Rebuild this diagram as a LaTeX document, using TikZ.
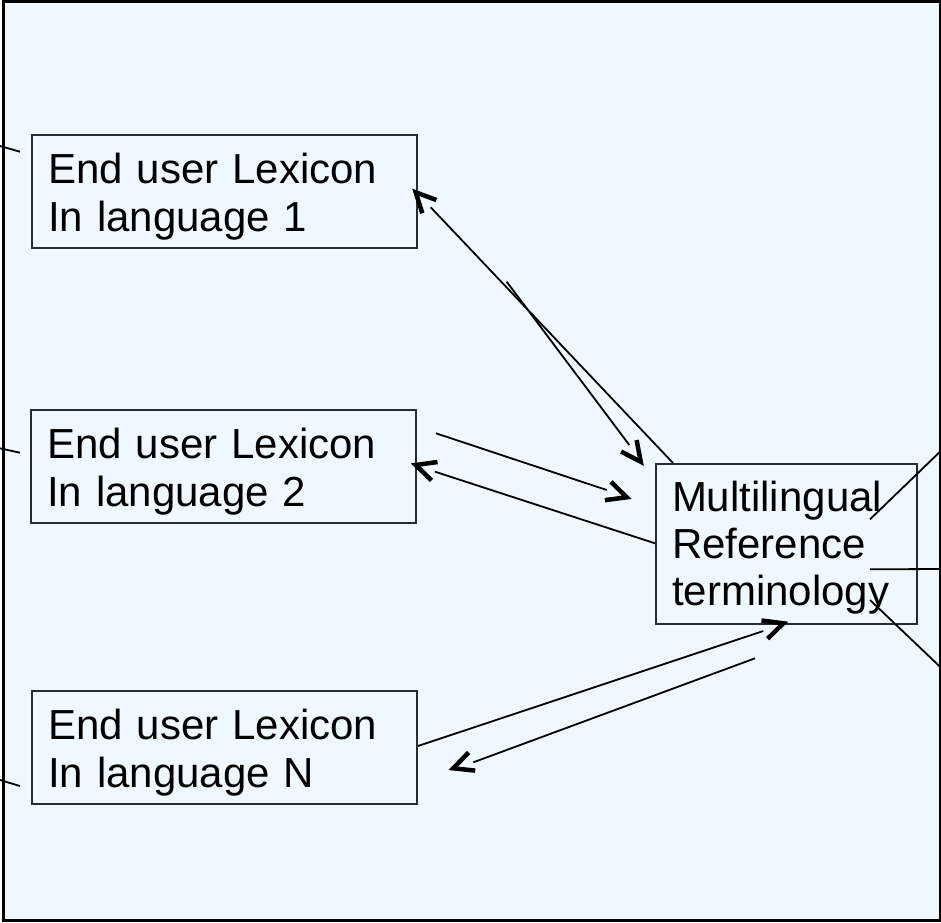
\documentclass[tikz,border=0pt]{standalone}
\usepackage{fontspec}
\setmainfont{Liberation Sans}
\usetikzlibrary{calc}
\definecolor{paper}{RGB}{240,248,255}
\definecolor{edge}{RGB}{38,44,48}
\tikzset{
  termbox/.style={draw=edge, line width=2pt, anchor=north west, inner xsep=16pt,
    inner ysep=0pt, align=left, font=\fontsize{42}{47.4}\selectfont, text=black},
  lexbox/.style={termbox, text width=353pt, text height=48.7pt, text depth=64.3pt},
  refbox/.style={termbox, text width=229pt, text height=47pt, text depth=113pt},
  link/.style={draw=black, line width=1.8pt},
  barb/.style={draw=black, line width=4.5pt, line cap=butt, line join=miter},
}
% open arrow head whose shaft stops short of the tip
\newcommand\openhead[2]{%
  \draw[barb] ($(#1)!22pt!26:(#2)$) -- (#1) -- ($(#1)!22pt!-26:(#2)$);}
\begin{document}
\begin{tikzpicture}[x=1pt, y=-1pt]
  \useasboundingbox (0,0) rectangle (941,922);
  \fill[white] (0,0) rectangle (941,922);
  \draw[line width=3pt, fill=paper] (3.5,1.5) rectangle (940,920.5);

  % lexicons and the reference terminology
  \node[lexbox] (lex1) at (31,134) {End user Lexicon\\In language 1};
  \node[lexbox] (lex2) at (30,409) {End user Lexicon\\In language 2};
  \node[lexbox] (lexN) at (31,690) {End user Lexicon\\In language N};
  \node[refbox] (ref) at (655,463) {Multilingual\\Reference\\terminology};

  % end points of the exchange arrows
  \coordinate (aTail) at ($(ref.north west)+(18,0)$);
  \coordinate (aEnd)  at (430.7,207.3);
  \coordinate (aTip)  at (415.7,192.3);
  \coordinate (bTail) at (506.7,281.7);
  \coordinate (bEnd)  at (629.3,445);
  \coordinate (bTip)  at (640.7,461.7);
  \coordinate (cTail) at (436,433.3);
  \coordinate (cEnd)  at (606.7,490);
  \coordinate (cTip)  at (626.7,497.3);
  \coordinate (dTail) at ($(ref.north west)+(0,80.3)$);
  \coordinate (dEnd)  at (435,471.7);
  \coordinate (dTip)  at (415.7,465);
  \coordinate (eTail) at ($(lexN.north east)+(0,56)$);
  \coordinate (eEnd)  at (763.3,631);
  \coordinate (eTip)  at (783.3,623.3);
  \coordinate (fTail) at (755,658.3);
  \coordinate (fEnd)  at (473.3,762.3);
  \coordinate (fTip)  at (453.3,768.3);

  \draw[link] (aTail) -- (aEnd); \openhead{aTip}{aTail}
  \draw[link] (bTail) -- (bEnd); \openhead{bTip}{bTail}
  \draw[link] (cTail) -- (cEnd); \openhead{cTip}{cTail}
  \draw[link] (dTail) -- (dEnd); \openhead{dTip}{dTail}
  \draw[link] (eTail) -- (eEnd); \openhead{eTip}{eTail}
  \draw[link] (fTail) -- (fEnd); \openhead{fTip}{fTail}

  % lines leaving the reference terminology to the right
  \coordinate (gIn)  at (870,519.3);  \coordinate (gOut) at (940,451.7);
  \coordinate (hIn)  at (870,569.3);  \coordinate (hOut) at (940,569);
  \coordinate (iIn)  at (870,600);    \coordinate (iOut) at (940,666.7);
  \draw[link] (gIn) -- (gOut);
  \draw[link] (hIn) -- (hOut);
  \draw[link] (iIn) -- (iOut);

  % lines reaching each lexicon from the left
  \coordinate (l1Out) at (0,146);   \coordinate (l1In) at (20,151.7);
  \coordinate (l2Out) at (0,448.3); \coordinate (l2In) at (20,452.7);
  \coordinate (l3Out) at (0,780);   \coordinate (l3In) at (20,786);
  \draw[link] (l1Out) -- (l1In);
  \draw[link] (l2Out) -- (l2In);
  \draw[link] (l3Out) -- (l3In);
\end{tikzpicture}
\end{document}
